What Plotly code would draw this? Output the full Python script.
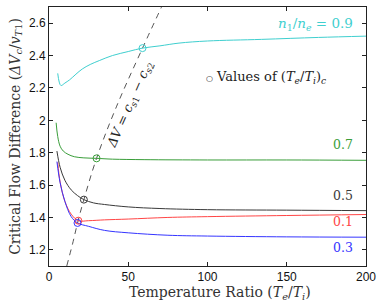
import plotly.graph_objects as go

# ---- data ----
x_09 = [5.5, 7.5, 10, 13, 17, 21, 26, 32, 40, 50, 59, 70, 82, 100, 134, 170, 200]
y_09 = [2.29, 2.215, 2.23, 2.25, 2.285, 2.317, 2.345, 2.37, 2.40, 2.425, 2.446, 2.46, 2.477, 2.49, 2.50, 2.512, 2.52]

x_07 = [4.5, 5.5, 7, 9, 12, 16, 22, 30, 40, 60, 100, 150, 200]
y_07 = [1.985, 1.90, 1.84, 1.81, 1.79, 1.775, 1.768, 1.765, 1.76, 1.757, 1.755, 1.755, 1.753]

x_05 = [5, 7, 10, 14, 18, 22, 28, 35, 50, 70, 100, 150, 200]
y_05 = [1.81, 1.71, 1.63, 1.57, 1.535, 1.51, 1.49, 1.48, 1.465, 1.455, 1.448, 1.445, 1.442]

x_01 = [5.5, 7, 10, 14, 18.5, 25, 35, 50, 75, 100, 150, 200]
y_01 = [1.74, 1.62, 1.50, 1.42, 1.38, 1.38, 1.385, 1.39, 1.40, 1.405, 1.412, 1.418]

x_03 = [5, 7, 10, 14, 18, 25, 35, 50, 75, 100, 150, 200]
y_03 = [1.745, 1.615, 1.50, 1.405, 1.366, 1.345, 1.32, 1.305, 1.29, 1.285, 1.28, 1.278]

# critical points (Te/Ti)_c
crit_x = [59, 30, 22, 18.5, 18]
crit_y = [2.446, 1.765, 1.51, 1.38, 1.366]

# dashed curve  dV = cs1 - cs2
dv_x = [11.2, 15.2, 18, 22, 30, 42.5, 59, 71]
dv_y = [1.10, 1.25, 1.366, 1.51, 1.765, 2.083, 2.446, 2.70]

labels = ["<i>n</i><sub>1</sub>/<i>n</i><sub><i>e</i></sub> = 0.9", "0.7", "0.5", "0.1", "0.3"]
label_y = [2.594, 1.849, 1.535, 1.375, 1.215]
label_size = [13.5, 12.5, 12.5, 12.5, 12.5]

x_ticks = [0, 50, 100, 150, 200]
y_ticks = [1.2, 1.4, 1.6, 1.8, 2.0, 2.2, 2.4, 2.6]
y_ticklabels = ["1.2", "1.4", "1.6", "1.8", "2", "2.2", "2.4", "2.6"]

colors = ["#3fcfcf", "#3a9e3a", "#3a3a3a", "#ff4545", "#3535ff"]
series = [(x_09, y_09), (x_07, y_07), (x_05, y_05), (x_01, y_01), (x_03, y_03)]

serif = "DejaVu Serif, Liberation Serif, serif"
sans = "Liberation Sans, Arial, sans-serif"

fig = go.Figure()

fig.add_trace(go.Scatter(x=dv_x, y=dv_y, mode="lines", line=dict(color="#555555", width=1, dash="6px,5px"),
                         line_shape="spline", showlegend=False, hoverinfo="skip"))

for (xs, ys), c in zip(series, colors):
    fig.add_trace(go.Scatter(x=xs, y=ys, mode="lines", line=dict(color=c, width=1),
                             line_shape="spline", showlegend=False))

for cx, cy, c in zip(crit_x, crit_y, colors):
    fig.add_trace(go.Scatter(x=[cx], y=[cy], mode="markers",
                             marker=dict(symbol="circle-open", size=7, color=c, line=dict(width=1)),
                             showlegend=False))

for lab, ly, c, s in zip(labels, label_y, colors, label_size):
    fig.add_annotation(x=193, y=ly, xref="x", yref="y", text=lab, showarrow=False,
                       xanchor="right", yanchor="middle",
                       font=dict(family=serif, size=s, color=c))

# legend-like note
fig.add_annotation(x=98, y=2.262, xref="x", yref="y",
                   text="<span style='font-size:8px'>○</span> Values of (<i>T</i><sub><i>e</i></sub>/<i>T</i><sub><i>i</i></sub>)<sub><i>c</i></sub>",
                   showarrow=False, xanchor="left", yanchor="middle",
                   font=dict(family=serif, size=13, color="#222222"))

fig.add_annotation(x=51.5, y=2.095, xref="x", yref="y",
                   text="<i>ΔV</i> = <i>c</i><sub><i>s</i>1</sub> − <i>c</i><sub><i>s</i>2</sub>",
                   showarrow=False, textangle=-66,
                   font=dict(family=serif, size=13, color="#222222"))

# x-axis title (placed as in the reference, slightly right of centre)
fig.add_annotation(x=0.54, y=-0.062, xref="paper", yref="paper",
                   text="Temperature Ratio (<i>T</i><sub><i>e</i></sub>/<i>T</i><sub><i>i</i></sub>)",
                   showarrow=False, xanchor="center", yanchor="top",
                   font=dict(family=serif, size=14, color="#333333"))

axis_common = dict(showline=True, linecolor="#222222", linewidth=1, mirror="ticks",
                   ticks="inside", ticklen=4, tickcolor="#222222", showgrid=False, zeroline=False,
                   tickfont=dict(family=sans, size=12, color="#111111"))

fig.update_xaxes(range=[0, 200], tickvals=x_ticks, ticktext=[str(v) for v in x_ticks],
                 **axis_common)
fig.update_yaxes(range=[1.1, 2.7], tickvals=y_ticks, ticktext=y_ticklabels,
                 title=dict(text="Critical Flow Difference (<i>ΔV</i><sub><i>c</i></sub>/<i>v</i><sub><i>T</i>1</sub>)",
                            font=dict(family=serif, size=14, color="#333333"), standoff=5),
                 **axis_common)

fig.update_layout(width=382, height=305, margin=dict(l=49, r=13, t=6, b=39),
                  paper_bgcolor="white", plot_bgcolor="white",
                  showlegend=False)

fig.write_html("out.html", config={"displayModeBar": False},
               post_script="document.body.style.margin='0';")
